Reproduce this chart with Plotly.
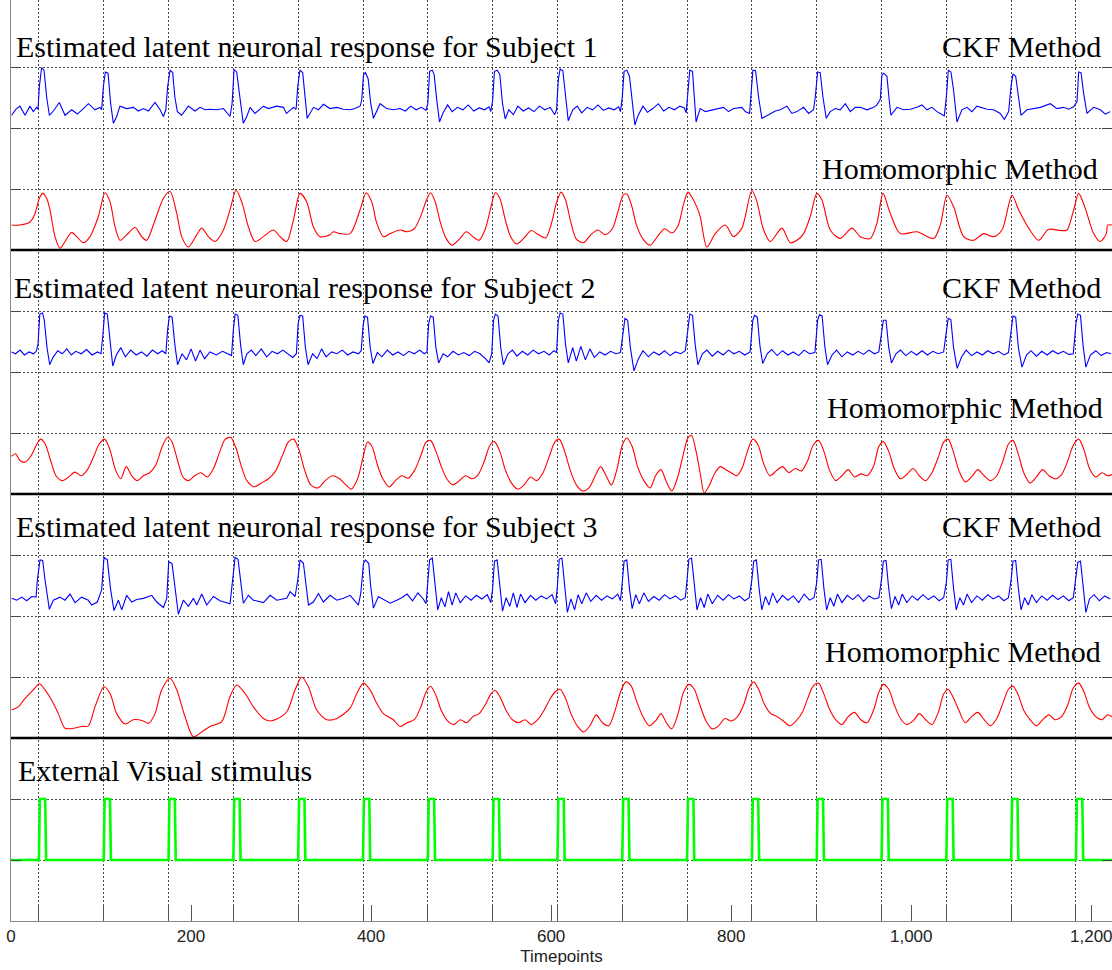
import plotly.graph_objects as go

# ---------------------------------------------------------------------------
# Data
# ---------------------------------------------------------------------------
T_MAX = 1223

# stimulus block onsets (timepoints) and block length
stim_onsets = [31, 103, 175, 247, 319, 391, 463, 535, 607, 679,
               751, 823, 895, 967, 1039, 1111, 1183]
stim_len = 7

x_ticks = [0, 200, 400, 600, 800, 1000, 1200]

# Subject 1, CKF estimate (amplitude normalised to its band)
s1_ckf_t = [0.7, 5.6, 10, 13, 15.6, 21, 24.8, 28.5, 30, 31.5, 34, 36.7, 39.6, 42.6, 47, 53.7, 60, 67.4,
            73.7, 80.4, 86, 93.3, 99, 100.7, 102.6, 104.8, 107.8, 110.7, 113.7, 117.4, 121, 128.5, 136,
            141.5, 147, 152.6, 160, 165.6, 169.3, 172, 174, 176.7, 179.6, 182, 184.8, 189.6, 197, 204.4,
            210, 215.6, 221, 228.5, 236, 243.3, 245.6, 247.8, 250.7, 253.7, 258, 261.9, 265.6, 271,
            280.4, 286, 295, 302.6, 306, 313.7, 316.7, 318.5, 321, 324, 326.7, 329, 336, 341.5, 347,
            354.4, 361.9, 369, 376.7, 382, 387.8, 389.6, 391.5, 393.7, 396.7, 399.6, 402.6, 410, 417.4,
            424.8, 432, 438, 444, 450, 456, 461, 463, 465, 468, 470, 473, 476, 480, 485, 490, 496, 502,
            508, 514, 520, 526, 531, 533, 535, 537, 540, 543, 546, 549, 553, 558, 563, 569, 575, 581,
            587, 593, 599, 604, 606, 608, 610, 613, 616, 619, 624, 629, 634, 640, 646, 652, 658, 664,
            670, 675, 677, 679, 681, 684, 687, 690, 693, 697, 702, 707, 713, 719, 725, 731, 737, 743,
            748, 750, 752, 754, 757, 759, 761, 764,
            765.6, 771.1, 780.4, 791.5, 797, 802.6, 811.9, 815.6, 820.4, 821.9, 824.1, 827.1, 830.4,
            834.1, 839.7, 849, 854.5, 861.9, 867.4, 873, 880.4, 886, 891.5, 893.4, 896, 898.9, 901.9,
            905.6, 910, 915.6, 921.1, 926.7, 932.3, 937.8, 943.4, 950.8, 958.2, 961.9, 965.6, 967.4,
            969.3, 973, 975.2, 977.4, 984.1, 991.5, 998.9, 1006.3, 1011.9, 1017.4, 1023, 1028.6,
            1032.3, 1036.7, 1039, 1041.2, 1044.1, 1047, 1050.8, 1056.3, 1061.9, 1067.4, 1073, 1078.5,
            1084.1, 1091.5, 1098.9, 1103.4, 1108.2, 1110.8, 1113, 1116, 1118.9, 1121.9, 1128.5, 1136,
            1143.4, 1154.5, 1161.9, 1169.3, 1174.9, 1180.4, 1184.1, 1186, 1188.6, 1191.5, 1195.2,
            1202.6, 1210, 1215.6, 1221.1]
s1_ckf_v = [0.21, 0.31, 0.36, 0.27, 0.21, 0.36, 0.27, 0.34, 0.31, 0.68, 0.99, 0.95, 0.51, 0.21, 0.28, 0.42,
            0.21, 0.30, 0.23, 0.32, 0.40, 0.30, 0.34, 0.30, 0.68, 0.92, 0.90, 0.40, 0.08, 0.19, 0.36,
            0.32, 0.34, 0.28, 0.32, 0.28, 0.42, 0.30, 0.19, 0.30, 0.68, 0.95, 0.91, 0.51, 0.27, 0.21,
            0.36, 0.28, 0.34, 0.30, 0.31, 0.30, 0.32, 0.19, 0.40, 0.96, 0.92, 0.57, 0.08, 0.19, 0.34,
            0.24, 0.36, 0.32, 0.36, 0.34, 0.24, 0.34, 0.31, 0.68, 0.95, 0.91, 0.51, 0.16, 0.34, 0.30,
            0.39, 0.32, 0.34, 0.31, 0.30, 0.32, 0.36, 0.46, 0.87, 0.91, 0.81, 0.40, 0.16, 0.40, 0.32,
            0.30, 0.32, 0.28, 0.36, 0.30, 0.34, 0.29, 0.40, 0.93, 0.95, 0.88, 0.45, 0.10, 0.25, 0.38,
            0.27, 0.34, 0.30, 0.38, 0.28, 0.33, 0.30, 0.35, 0.27, 0.45, 0.93, 0.95, 0.88, 0.40, 0.15,
            0.30, 0.22, 0.36, 0.28, 0.33, 0.27, 0.36, 0.30, 0.34, 0.22, 0.30, 0.80, 0.97, 0.94, 0.50,
            0.12, 0.30, 0.36, 0.25, 0.34, 0.30, 0.38, 0.29, 0.33, 0.30, 0.35, 0.27, 0.50, 0.93, 0.95,
            0.85, 0.40, 0.05, 0.22, 0.36, 0.26, 0.32, 0.40, 0.28, 0.34, 0.30, 0.36, 0.33, 0.25, 0.60,
            0.95, 0.93, 0.50, 0.10, 0.25,
            0.32, 0.27, 0.30, 0.34, 0.27, 0.32, 0.34, 0.27, 0.24, 0.51, 0.95, 0.94, 0.51, 0.16, 0.21,
            0.28, 0.30, 0.36, 0.24, 0.27, 0.34, 0.24, 0.30, 0.51, 0.92, 0.91, 0.51, 0.16, 0.27, 0.32,
            0.30, 0.40, 0.27, 0.34, 0.34, 0.30, 0.34, 0.38, 0.47, 0.87, 0.90, 0.85, 0.51, 0.21, 0.34,
            0.30, 0.31, 0.34, 0.38, 0.30, 0.34, 0.27, 0.24, 0.20, 0.51, 0.95, 0.92, 0.62, 0.10, 0.30,
            0.34, 0.27, 0.36, 0.34, 0.31, 0.30, 0.24, 0.14, 0.27, 0.68, 0.89, 0.85, 0.51, 0.21, 0.30,
            0.32, 0.34, 0.40, 0.32, 0.34, 0.31, 0.35, 0.43, 0.92, 0.91, 0.57, 0.24, 0.34, 0.30, 0.23,
            0.27]

# Subject 1, homomorphic estimate
s1_hom_t = [0.7, 10, 21.1, 26.7, 31.5, 35.2, 39.6, 43.3, 48.9, 54.4, 60, 67.4, 73, 80.4, 87.8, 97, 104.4,
            110, 115.6, 121.1, 128.5, 137.8, 145.2, 150.7, 160, 169.3, 176.7, 184.1, 189.6, 197, 206.3,
            211.9, 219.3, 226.7, 235.9, 243.3, 250, 256.3, 263.7, 271.1, 280.4, 291.5, 298.9, 306.3,
            313.7, 321.1, 328.5, 335.9, 343.3, 354.4, 358.1, 365.6, 376.7, 387.8, 394.4, 400.7, 406.3,
            413.7, 421.1, 432.2, 440, 448, 455, 461, 466, 471, 477, 483, 490, 498, 506, 513, 520, 527,
            533, 538, 543, 549, 555, 562, 570, 578, 586, 594, 600, 606, 611, 616, 622, 628, 636, 644,
            652, 660, 668, 674, 680, 684, 689, 695, 702, 710, 718, 726, 734, 741, 747, 752, 757, 762,
            765.6, 773, 782.3, 793.4, 802.6, 811.9, 815.6, 823, 828.6, 836, 843.4, 856.3, 865.6, 873,
            880.4, 887.8, 895.2, 900.8, 910, 921.1, 934.1, 943.4, 954.5, 961.9, 968.6, 976.7, 987.8,
            1006.3, 1024.9, 1032.3, 1039.7, 1047.1, 1058.2, 1069.3, 1080.4, 1091.5, 1100.8, 1111.9,
            1119.3, 1130.4, 1141.5, 1152.6, 1165.6, 1173, 1180.4, 1186, 1193.4, 1202.6, 1210, 1216.7,
            1218.2, 1223]
s1_hom_v = [0.41, 0.41, 0.46, 0.60, 0.85, 0.93, 0.85, 0.66, 0.22, 0.03, 0.14, 0.29, 0.22, 0.12, 0.22, 0.55,
            0.94, 0.79, 0.38, 0.16, 0.25, 0.37, 0.22, 0.16, 0.49, 0.85, 0.96, 0.60, 0.22, 0.05, 0.25,
            0.36, 0.22, 0.14, 0.33, 0.66, 0.98, 0.79, 0.38, 0.14, 0.22, 0.33, 0.22, 0.14, 0.49, 0.93,
            0.79, 0.38, 0.22, 0.25, 0.30, 0.27, 0.27, 0.66, 0.94, 0.79, 0.44, 0.22, 0.27, 0.33, 0.30,
            0.35, 0.55, 0.80, 0.94, 0.80, 0.45, 0.20, 0.08, 0.18, 0.30, 0.22, 0.16, 0.35, 0.70, 0.94,
            0.85, 0.50, 0.22, 0.10, 0.20, 0.32, 0.25, 0.20, 0.42, 0.78, 0.95, 0.82, 0.45, 0.18, 0.12,
            0.25, 0.33, 0.25, 0.35, 0.62, 0.90, 0.92, 0.75, 0.40, 0.18, 0.08, 0.22, 0.35, 0.28, 0.40,
            0.75, 0.95, 0.85, 0.70,
            0.55, 0.05, 0.27, 0.41, 0.22, 0.36, 0.55, 0.98, 0.79, 0.33, 0.14, 0.36, 0.12, 0.16, 0.27,
            0.55, 0.93, 0.82, 0.33, 0.19, 0.36, 0.22, 0.19, 0.44, 0.93, 0.60, 0.27, 0.30, 0.19, 0.41,
            0.90, 0.71, 0.22, 0.16, 0.27, 0.22, 0.33, 0.90, 0.66, 0.36, 0.16, 0.34, 0.32, 0.33, 0.66,
            0.93, 0.68, 0.27, 0.14, 0.27, 0.41, 0.41]

# Subject 2, CKF estimate
s2_ckf_t = [0.7, 5, 10, 15, 20, 25, 28, 30, 32, 35, 37, 40, 43, 47, 52, 57, 62, 67, 72, 78, 84, 90, 96,
            100, 102, 104, 107, 110, 113, 117, 122, 127, 133, 139, 145, 151, 157, 163, 168, 172, 174,
            176, 179, 182, 185, 190, 195, 200, 205, 210, 215, 221, 228, 235, 241, 245, 247, 249, 252,
            255, 258, 262, 267, 272, 278, 284, 290, 296, 302, 308, 313, 317, 319, 321, 324, 327, 330,
            335, 340, 345, 350, 356, 362, 368, 374, 380, 386, 389, 391, 393, 396, 399, 402, 407, 412,
            418, 424, 430, 436, 442, 448, 454, 459, 462, 464, 466, 469, 472, 475, 480, 485, 491, 497,
            503, 509, 515, 521, 527, 531, 534, 536, 538, 541, 544, 547, 552, 557, 562, 568, 574, 580,
            586, 592, 598, 603, 606, 608, 610, 613, 616, 619, 624, 628, 633, 638, 643, 648, 654, 660,
            666, 672, 677, 680, 682, 685, 688, 692, 697, 702, 708, 714, 720, 726, 732, 738, 744, 749,
            752, 754, 757, 760, 763, 768, 773, 779, 785, 791, 797, 803, 809, 815, 821, 824, 826, 829,
            832, 835, 840, 845, 851, 857, 863, 869, 875, 881, 887, 893, 896, 898, 901, 904, 907, 912,
            917, 923, 929, 935, 941, 947, 953, 959, 964, 967, 969, 972, 975, 978, 983, 988, 994, 1000,
            1006, 1012, 1018, 1024, 1030, 1036, 1039, 1041, 1044, 1047, 1051, 1056, 1061, 1067, 1073,
            1079, 1085, 1091, 1097, 1103, 1108, 1111, 1113, 1116, 1119, 1123, 1128, 1133, 1139, 1145,
            1151, 1157, 1163, 1169, 1175, 1180, 1183, 1185, 1188, 1191, 1194, 1199, 1205, 1211, 1217,
            1222]
s2_ckf_v = [0.33, 0.30, 0.36, 0.28, 0.33, 0.30, 0.34, 0.45, 0.95, 0.97, 0.85, 0.40, 0.12, 0.25, 0.35, 0.30,
            0.38, 0.28, 0.34, 0.30, 0.37, 0.28, 0.33, 0.30, 0.60, 0.97, 0.95, 0.50, 0.10, 0.28, 0.40,
            0.25, 0.36, 0.28, 0.33, 0.26, 0.36, 0.30, 0.35, 0.30, 0.70, 0.92, 0.90, 0.45, 0.12, 0.30,
            0.20, 0.38, 0.18, 0.36, 0.22, 0.33, 0.28, 0.34, 0.30, 0.27, 0.70, 0.95, 0.93, 0.45, 0.12,
            0.30, 0.36, 0.27, 0.38, 0.25, 0.34, 0.30, 0.36, 0.30, 0.24, 0.30, 0.80, 0.93, 0.92, 0.40,
            0.12, 0.30, 0.22, 0.38, 0.25, 0.33, 0.30, 0.36, 0.28, 0.33, 0.30, 0.35, 0.75, 0.92, 0.90,
            0.40, 0.14, 0.32, 0.25, 0.36, 0.28, 0.33, 0.27, 0.34, 0.30, 0.36, 0.30, 0.33, 0.80, 0.92,
            0.90, 0.40, 0.15, 0.30, 0.25, 0.34, 0.28, 0.32, 0.27, 0.34, 0.30, 0.22, 0.15, 0.30, 0.85,
            0.95, 0.92, 0.40, 0.12, 0.30, 0.36, 0.26, 0.34, 0.28, 0.36, 0.30, 0.34, 0.28, 0.35, 0.32,
            0.85, 0.97, 0.95, 0.45, 0.15, 0.40, 0.18, 0.42, 0.20, 0.38, 0.24, 0.33, 0.28, 0.34, 0.30,
            0.32, 0.70, 0.88, 0.85, 0.40, 0.02, 0.22, 0.35, 0.25, 0.33, 0.28, 0.35, 0.27, 0.33, 0.30,
            0.35, 0.75, 0.95, 0.93, 0.45, 0.12, 0.30, 0.36, 0.26, 0.34, 0.28, 0.36, 0.30, 0.34, 0.28,
            0.33, 0.85, 0.93, 0.90, 0.42, 0.14, 0.30, 0.37, 0.27, 0.35, 0.28, 0.33, 0.27, 0.36, 0.30,
            0.32, 0.85, 0.94, 0.92, 0.42, 0.12, 0.28, 0.36, 0.25, 0.33, 0.28, 0.34, 0.29, 0.36, 0.30,
            0.33, 0.60, 0.85, 0.85, 0.40, 0.15, 0.30, 0.36, 0.27, 0.34, 0.28, 0.35, 0.28, 0.34, 0.30,
            0.33, 0.70, 0.88, 0.86, 0.40, 0.06, 0.25, 0.36, 0.27, 0.33, 0.28, 0.35, 0.30, 0.34, 0.28,
            0.32, 0.75, 0.92, 0.90, 0.40, 0.08, 0.28, 0.35, 0.26, 0.34, 0.28, 0.35, 0.30, 0.34, 0.29,
            0.30, 0.80, 0.95, 0.93, 0.42, 0.08, 0.28, 0.35, 0.27, 0.32, 0.30]

# Subject 2, homomorphic estimate
s2_hom_t = [0.7, 5, 10, 15, 22, 28, 33, 38, 44, 50, 57, 64, 71, 78, 85, 92, 98, 104, 110, 116, 122, 128,
            134, 140, 147, 154, 161, 168, 174, 179, 185, 191, 197, 204, 211, 218, 225, 232, 238, 244,
            250, 256, 262, 270, 278, 286, 294, 302, 308, 314, 320, 326, 333, 341, 349, 357, 365, 372,
            378, 385, 391, 396, 401, 407, 413, 420, 427, 434, 441, 448, 455, 461, 466, 472, 478, 484,
            491, 498, 505, 512, 519, 526, 532, 537, 543, 549, 556, 563, 570, 577, 584, 591, 598, 604,
            609, 615, 621, 628, 635, 642, 649, 655, 661, 667, 673, 679, 684, 690, 696, 703, 710, 716,
            722, 728, 734, 740, 746, 752, 756, 761, 766, 770, 776, 782, 788, 794, 800, 806, 812, 818,
            824, 830, 836, 843, 850, 857, 864, 871, 878, 885, 891, 897, 903, 909, 916, 923, 930, 937,
            944, 951, 958, 964, 969, 975, 981, 988, 995, 1002, 1009, 1016, 1023, 1030, 1036, 1041,
            1047, 1053, 1060, 1067, 1074, 1081, 1088, 1095, 1102, 1108, 1113, 1119, 1125, 1132, 1139,
            1146, 1153, 1160, 1167, 1174, 1180, 1186, 1192, 1198, 1205, 1212, 1218, 1223]
s2_hom_v = [0.62, 0.66, 0.55, 0.52, 0.62, 0.80, 0.90, 0.82, 0.55, 0.30, 0.22, 0.28, 0.36, 0.30, 0.40, 0.62,
            0.82, 0.90, 0.72, 0.40, 0.25, 0.45, 0.30, 0.22, 0.30, 0.35, 0.48, 0.78, 0.93, 0.85, 0.55,
            0.28, 0.22, 0.30, 0.35, 0.28, 0.42, 0.70, 0.90, 0.93, 0.75, 0.45, 0.22, 0.12, 0.18, 0.25,
            0.38, 0.65, 0.85, 0.90, 0.72, 0.40, 0.15, 0.10, 0.22, 0.30, 0.25, 0.15, 0.08, 0.25, 0.60,
            0.85, 0.78, 0.48, 0.25, 0.12, 0.22, 0.30, 0.26, 0.38, 0.62, 0.85, 0.88, 0.70, 0.45, 0.25,
            0.15, 0.22, 0.30, 0.25, 0.32, 0.55, 0.80, 0.86, 0.70, 0.40, 0.18, 0.08, 0.15, 0.28, 0.22,
            0.35, 0.62, 0.85, 0.90, 0.70, 0.40, 0.15, 0.05, 0.10, 0.30, 0.45, 0.30, 0.15, 0.40, 0.80,
            0.92, 0.78, 0.45, 0.22, 0.10, 0.30, 0.40, 0.20, 0.05, 0.25, 0.60, 0.92, 0.96, 0.70, 0.30,
            0.02, 0.15, 0.35, 0.45, 0.40, 0.35, 0.30, 0.42, 0.70, 0.90, 0.80, 0.50, 0.30, 0.38, 0.45,
            0.35, 0.42, 0.38, 0.55, 0.80, 0.88, 0.70, 0.40, 0.22, 0.30, 0.40, 0.28, 0.33, 0.30, 0.45,
            0.78, 0.86, 0.70, 0.42, 0.25, 0.32, 0.42, 0.30, 0.22, 0.35, 0.60, 0.85, 0.90, 0.68, 0.38,
            0.20, 0.28, 0.40, 0.30, 0.22, 0.30, 0.55, 0.82, 0.88, 0.65, 0.35, 0.18, 0.28, 0.40, 0.30,
            0.25, 0.32, 0.55, 0.80, 0.90, 0.72, 0.42, 0.28, 0.35, 0.30, 0.32]

# Subject 3, CKF estimate
s3_ckf_t = [0.7, 6.3, 11.9, 17.4, 23, 27.8, 29.3, 32.2, 35.2, 37.8, 42.6, 47, 54.4, 60, 65.6, 71.1, 78.5,
            85.9, 89.6, 95.9, 100.7, 103.3, 107, 110.7, 114.4, 119.3, 123, 128.5, 134.1, 139.6, 147,
            156.3, 161.9, 169.3, 173, 175.2, 178.9, 182.2, 185.9, 191.5, 197, 202.6, 206.3, 211.9,
            217.4, 224.8, 232.2, 243.3, 246.3, 248.9, 252.2, 255.2, 258.1, 263.7, 269.3, 280.4, 287.8,
            295.2, 306.3, 310, 315.6, 318.5, 321.1, 324.8, 327.8, 330.4, 335.9, 341.5, 347, 354.4,
            361.9, 369.3, 376.7, 385.9, 388.5, 391.5, 393.7, 397.4, 399.6, 402.6, 408.1, 413.7, 421.1,
            428.5, 434, 440, 446, 452, 458, 461, 463, 465, 468, 471, 474, 478, 482, 486, 490, 494, 499,
            505, 511, 517, 523, 529, 533, 535, 537, 540, 543, 546, 550, 554, 558, 562, 566, 571, 577,
            583, 589, 595, 601, 605, 607, 609, 612, 615, 618, 622, 626, 630, 634, 639, 644, 650, 656,
            662, 668, 674, 677, 679, 681, 684, 687, 690, 694, 698, 703, 708, 714, 720, 726, 732, 738,
            744, 749, 751, 753, 756, 759, 762, 766, 770, 774, 779, 785, 791, 797, 803, 809, 815, 820,
            823, 825, 828, 831, 834, 838, 842, 846, 851, 857, 863, 869, 875, 881, 887, 892, 895, 897,
            900, 903, 906, 910, 914, 918, 923, 929, 935, 941, 947, 953, 959, 964, 967, 969, 972, 975,
            978, 982, 986, 990, 995, 1001, 1007, 1013, 1019, 1025, 1031, 1036, 1039, 1041, 1044, 1047,
            1050, 1054, 1058, 1062, 1067, 1073, 1079, 1085, 1091, 1097, 1103, 1108, 1111, 1113, 1116,
            1119, 1122, 1126, 1130, 1134, 1139, 1145, 1151, 1157, 1163, 1169, 1175, 1180, 1183, 1185,
            1188, 1191, 1194, 1198, 1203, 1209, 1215, 1221]
s3_ckf_v = [0.29, 0.26, 0.31, 0.25, 0.32, 0.31, 0.59, 0.92, 0.91, 0.59, 0.11, 0.26, 0.31, 0.26, 0.36, 0.22,
            0.31, 0.26, 0.18, 0.23, 0.43, 0.96, 0.92, 0.43, 0.09, 0.26, 0.10, 0.34, 0.23, 0.27, 0.29,
            0.34, 0.23, 0.14, 0.29, 0.89, 0.86, 0.43, 0.03, 0.26, 0.16, 0.29, 0.18, 0.36, 0.18, 0.32,
            0.25, 0.20, 0.59, 0.96, 0.93, 0.59, 0.21, 0.34, 0.26, 0.22, 0.34, 0.26, 0.29, 0.40, 0.32,
            0.59, 0.92, 0.87, 0.48, 0.18, 0.23, 0.37, 0.23, 0.34, 0.26, 0.29, 0.34, 0.18, 0.37, 0.86,
            0.92, 0.86, 0.48, 0.13, 0.32, 0.27, 0.21, 0.26, 0.30, 0.36, 0.25, 0.38, 0.28, 0.20, 0.50,
            0.92, 0.95, 0.55, 0.10, 0.30, 0.15, 0.40, 0.18, 0.38, 0.22, 0.33, 0.26, 0.34, 0.28, 0.35,
            0.22, 0.45, 0.90, 0.92, 0.50, 0.08, 0.30, 0.16, 0.38, 0.14, 0.36, 0.22, 0.34, 0.26, 0.33,
            0.28, 0.35, 0.20, 0.50, 0.93, 0.95, 0.50, 0.06, 0.28, 0.10, 0.35, 0.20, 0.38, 0.24, 0.34,
            0.26, 0.33, 0.28, 0.36, 0.25, 0.55, 0.90, 0.92, 0.45, 0.12, 0.35, 0.20, 0.38, 0.24, 0.32,
            0.26, 0.35, 0.28, 0.33, 0.26, 0.30, 0.60, 0.93, 0.95, 0.50, 0.10, 0.30, 0.14, 0.36, 0.20,
            0.34, 0.26, 0.35, 0.28, 0.33, 0.25, 0.30, 0.60, 0.90, 0.92, 0.45, 0.10, 0.32, 0.18, 0.38,
            0.22, 0.34, 0.26, 0.33, 0.22, 0.36, 0.26, 0.30, 0.55, 0.92, 0.93, 0.45, 0.10, 0.30, 0.16,
            0.36, 0.22, 0.34, 0.27, 0.35, 0.24, 0.33, 0.28, 0.30, 0.60, 0.90, 0.91, 0.45, 0.12, 0.32,
            0.18, 0.36, 0.22, 0.33, 0.26, 0.35, 0.27, 0.33, 0.25, 0.30, 0.55, 0.92, 0.93, 0.45, 0.10,
            0.30, 0.18, 0.36, 0.22, 0.33, 0.26, 0.35, 0.28, 0.33, 0.25, 0.30, 0.60, 0.90, 0.91, 0.45,
            0.10, 0.30, 0.18, 0.35, 0.22, 0.33, 0.26, 0.34, 0.27, 0.33, 0.25, 0.30, 0.60, 0.88, 0.90,
            0.45, 0.06, 0.28, 0.35, 0.25, 0.33, 0.28]

# Subject 3, homomorphic estimate
s3_hom_t = [0.7, 8.1, 15.6, 24.8, 31.5, 37.8, 45.2, 52.6, 60, 69.3, 78.5, 85.9, 93.3, 103.3, 110, 117.4,
            126.7, 135.9, 147, 152.6, 160, 167.4, 176.7, 184.1, 193.3, 202.6, 211.9, 221.1, 234.1,
            243.3, 250.7, 260, 269.3, 280.4, 287.8, 295.2, 306.3, 315.6, 323, 330.4, 339.6, 350.7,
            361.9, 376.7, 384.1, 391.5, 398.9, 406.3, 413.7, 424.8, 432.2, 440, 448, 455, 461, 466,
            472, 478, 485, 492, 499, 506, 513, 520, 527, 533, 538, 544, 550, 557, 564, 571, 578, 585,
            592, 598, 604, 610, 616, 622, 629, 636, 643, 650, 657, 664, 671, 677, 683, 689, 695, 702,
            709, 716, 722, 728, 734, 741, 747, 753, 759, 765, 772, 779, 786, 793, 800, 807, 814, 820,
            825, 831, 837, 844, 851, 858, 865, 872, 879, 885, 891, 897, 903, 909, 916, 923, 930, 937,
            944, 951, 958, 964, 969, 975, 981, 988, 995, 1002, 1009, 1016, 1023, 1030, 1036, 1041,
            1047, 1053, 1060, 1067, 1074, 1081, 1088, 1095, 1102, 1108, 1113, 1119, 1125, 1132, 1139,
            1146, 1153, 1160, 1167, 1174, 1180, 1186, 1192, 1198, 1205, 1212, 1218, 1223]
s3_hom_v = [0.46, 0.51, 0.65, 0.79, 0.89, 0.79, 0.62, 0.40, 0.16, 0.16, 0.19, 0.20, 0.51, 0.84, 0.73, 0.40,
            0.23, 0.30, 0.28, 0.24, 0.40, 0.79, 0.98, 0.79, 0.35, 0.02, 0.10, 0.19, 0.27, 0.68, 0.87,
            0.73, 0.51, 0.32, 0.28, 0.31, 0.43, 0.79, 1.00, 0.84, 0.46, 0.30, 0.32, 0.49, 0.73, 0.90,
            0.79, 0.57, 0.40, 0.30, 0.19, 0.25, 0.30, 0.50, 0.75, 0.85, 0.70, 0.45, 0.28, 0.22, 0.30,
            0.25, 0.35, 0.40, 0.55, 0.72, 0.78, 0.65, 0.45, 0.30, 0.25, 0.30, 0.22, 0.30, 0.45, 0.62,
            0.75, 0.80, 0.65, 0.40, 0.20, 0.10, 0.20, 0.38, 0.25, 0.20, 0.45, 0.75, 0.92, 0.85, 0.60,
            0.35, 0.20, 0.28, 0.40, 0.25, 0.15, 0.40, 0.75, 0.88, 0.80, 0.55, 0.28, 0.15, 0.20, 0.32,
            0.28, 0.35, 0.55, 0.82, 0.92, 0.78, 0.55, 0.40, 0.35, 0.28, 0.20, 0.28, 0.42, 0.65, 0.85,
            0.90, 0.72, 0.48, 0.30, 0.22, 0.35, 0.42, 0.30, 0.25, 0.45, 0.75, 0.88, 0.80, 0.55, 0.32,
            0.22, 0.28, 0.40, 0.30, 0.22, 0.42, 0.72, 0.80, 0.65, 0.45, 0.25, 0.35, 0.42, 0.30, 0.20,
            0.32, 0.58, 0.80, 0.85, 0.70, 0.45, 0.30, 0.20, 0.30, 0.38, 0.30, 0.35, 0.55, 0.82, 0.90,
            0.75, 0.50, 0.35, 0.30, 0.38, 0.35]

# ---------------------------------------------------------------------------
# Figure
# ---------------------------------------------------------------------------
BLUE = "#0000ff"
RED = "#ff0000"
GREEN = "#00ff00"
GRID = "#4a4a4a"
SERIF = "Liberation Serif, Times New Roman, serif"
NARROW = "Liberation Sans Narrow, Arial Narrow, Liberation Sans, sans-serif"

# each trace lives in its own one-unit band of the shared y axis;
# the homomorphic estimates are smooth, the CKF ones are drawn as polylines
panels = [
    (s1_ckf_t, s1_ckf_v, 13, BLUE, "linear"),
    (s1_hom_t, s1_hom_v, 11, RED, "spline"),
    (s2_ckf_t, s2_ckf_v, 9, BLUE, "linear"),
    (s2_hom_t, s2_hom_v, 7, RED, "spline"),
    (s3_ckf_t, s3_ckf_v, 5, BLUE, "linear"),
    (s3_hom_t, s3_hom_v, 3, RED, "spline"),
]

fig = go.Figure()
for t, v, base, color, shape in panels:
    line = dict(color=color, width=1.1, shape=shape)
    if shape == "spline":
        line["smoothing"] = 0.8
    fig.add_trace(go.Scatter(
        x=t, y=[base + a for a in v], mode="lines", line=line, hoverinfo="skip",
    ))

# square-wave visual stimulus built from the block onsets
stim_x, stim_y = [0], [0]
for on in stim_onsets:
    stim_x += [on, on + 1, on + stim_len, on + stim_len + 1]
    stim_y += [0, 1, 1, 0]
stim_x.append(T_MAX)
stim_y.append(0)
fig.add_trace(go.Scatter(
    x=stim_x, y=[1 + s for s in stim_y], mode="lines", xaxis="x2",
    line=dict(color=GREEN, width=2.6), hoverinfo="skip",
))

# heavy separators between subjects
for yb in (3, 7, 11):
    fig.add_shape(type="line", xref="paper", x0=0, x1=1, yref="y", y0=yb, y1=yb,
                  line=dict(color="black", width=2.6), layer="above")

labels = [
    ("Estimated latent neuronal response for Subject 1", 3, 14.34, "left"),
    ("CKF Method", 1213, 14.34, "right"),
    ("Homomorphic Method", 1210, 12.34, "right"),
    ("Estimated latent neuronal response for Subject 2", 1.5, 10.38, "left"),
    ("CKF Method", 1213, 10.38, "right"),
    ("Homomorphic Method", 1215, 8.42, "right"),
    ("Estimated latent neuronal response for Subject 3", 3, 6.46, "left"),
    ("CKF Method", 1213, 6.46, "right"),
    ("Homomorphic Method", 1213, 4.42, "right"),
    ("External Visual stimulus", 6, 2.46, "left"),
]
for text, x, y, anchor in labels:
    fig.add_annotation(text=text, x=x, y=y, xref="x", yref="y", xanchor=anchor,
                       yanchor="middle", showarrow=False,
                       font=dict(family=SERIF, size=30, color="black"))

fig.update_layout(
    width=1112, height=970,
    margin=dict(l=11, r=0, t=0, b=49),
    paper_bgcolor="white", plot_bgcolor="white",
    showlegend=False,
    xaxis=dict(
        range=[0, T_MAX], tickvals=x_ticks, tickformat=",d",
        ticks="inside", ticklen=16, tickcolor="#555", tickwidth=1,
        showline=True, linecolor="#888", linewidth=1,
        showgrid=False, zeroline=False, ticklabeloverflow="allow",
        tickfont=dict(family=NARROW, size=17, color="#222"),
        title=dict(text="Timepoints", standoff=4,
                   font=dict(family=NARROW, size=17, color="#222")),
    ),
    xaxis2=dict(
        overlaying="x", anchor="y", side="bottom",
        range=[0, T_MAX], tickvals=stim_onsets, showticklabels=False,
        ticks="inside", ticklen=16, tickcolor="#555", tickwidth=1,
        showgrid=True, gridcolor=GRID, gridwidth=1, griddash="2px,2px",
        zeroline=False, showline=False,
    ),
    yaxis=dict(
        range=[0, 15.1], tickvals=list(range(0, 15)), showticklabels=False,
        ticks="inside", ticklen=10, tickcolor="#444",
        showgrid=True, gridcolor=GRID, gridwidth=1, griddash="2px,2px",
        showline=True, linecolor="#888", linewidth=1, mirror="ticks",
        zeroline=False,
    ),
)

fig.write_html("out.html")
